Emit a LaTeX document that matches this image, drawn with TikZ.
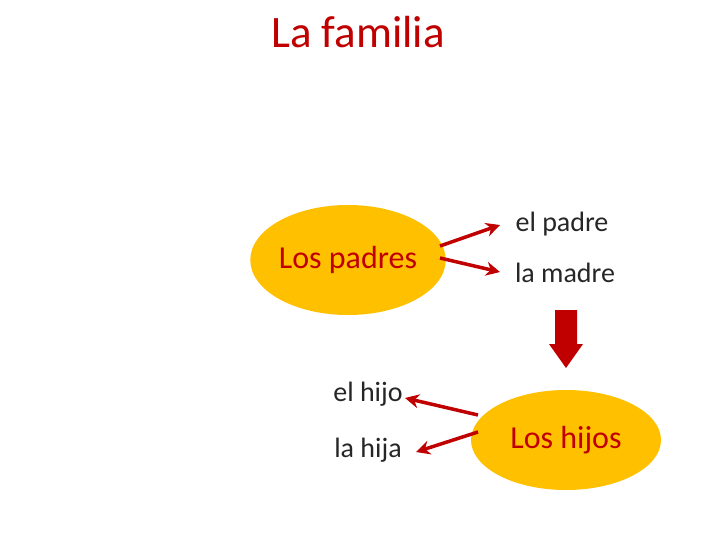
\documentclass[tikz,border=0pt]{standalone}
\usepackage{fontspec}
\setmainfont{Carlito}
\usetikzlibrary{arrows.meta,shapes.geometric}
\definecolor{dred}{HTML}{C00000}
\definecolor{gold}{HTML}{FFC000}
\begin{document}
\begin{tikzpicture}[x=1pt,y=-1pt,
  blob/.style={ellipse,fill=gold,text=dred,font=\fontsize{32}{36}\selectfont},
  word/.style={font=\fontsize{28}{32}\selectfont,text=black!85},
  arr/.style={draw=dred,line width=3.5pt,-{Stealth[length=14pt,width=14pt]}}]
\useasboundingbox (0,0) rectangle (720,540);
\node[text=dred,font=\fontsize{45}{50}\selectfont] (t) at (358,32) {La familia};
\node[blob,minimum width=184pt,minimum height=110pt,inner sep=0pt] (p) at (348,260) {Los padres};
\node[word] (pa) at (562,224) {el padre};
\node[word] (ma) at (565,273) {la madre};
\coordinate (a1) at (440,246); \coordinate (a2) at (440,258);
\coordinate (b1) at (500,225); \coordinate (b2) at (500,272);
\draw[arr] (a1) -- (b1);
\draw[arr] (a2) -- (b2);
\node[blob,minimum width=190pt,minimum height=100pt,inner sep=0pt] (h) at (566,440) {Los hijos};
\node[word] (hi) at (368,394) {el hijo};
\node[word] (ha) at (368,450) {la hija};
\coordinate (c1) at (478,415); \coordinate (c2) at (478,432);
\coordinate (d1) at (405,398); \coordinate (d2) at (416,452);
\draw[arr] (c1) -- (d1);
\draw[arr] (c2) -- (d2);
\fill[dred] (555,310) -- (577,310) -- (577,344) -- (583,344) -- (566,368) -- (549,344) -- (555,344) -- cycle;
\end{tikzpicture}
\end{document}
